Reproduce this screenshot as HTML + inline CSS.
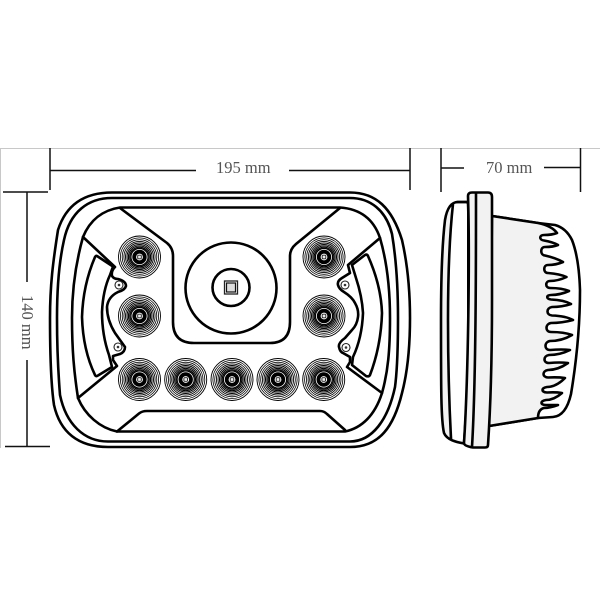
<!DOCTYPE html>
<html><head><meta charset="utf-8"><style>
html,body{margin:0;padding:0;background:#fff}
svg{display:block;filter:blur(.3px)}
text{font-family:"Liberation Serif",serif;font-size:16.5px;fill:#555}
</style></head><body>
<svg width="600" height="600" viewBox="0 0 600 600" xmlns="http://www.w3.org/2000/svg">
<defs>
<g id="led" fill="none" stroke="#000">
<circle r="21" stroke-width=".9"/><circle r="19.1" stroke-width=".8"/><circle r="17.3" stroke-width=".8"/><circle r="15.6" stroke-width=".85"/><circle r="14" stroke-width=".9"/><circle r="12.5" stroke-width="1"/><circle r="11.1" stroke-width="1.05"/><circle r="9.8" stroke-width="1.1"/><circle r="8.6" stroke-width="1.2"/>
<circle r="7.2" fill="#000" stroke="none"/>
<circle r="3.4" fill="#fff" stroke="none"/>
<rect x="-1.8" y="-1.8" width="3.6" height="3.6" rx=".8" stroke="#222" stroke-width=".9" fill="#eee"/>
</g>
<g id="screw" fill="#fff" stroke="#222">
<circle r="4" stroke-width="1.1"/><circle r="1.3" fill="#333" stroke="none"/>
</g>
</defs>
<rect width="600" height="600" fill="#fff"/>
<path d="M0 148.5H600M.5 148V448" fill="none" stroke="#c8c8c8" stroke-width="1"/>
<g fill="none" stroke="#111" stroke-width="1.5">
<path d="M50 148V190M50 170.5H196M289 170.5H410M410 148V190"/>
<path d="M3 192H48M27 192V282M27 360V446.5M5 446.5H50"/>
<path d="M441 148V192M580.5 148V192M441 168H464M544 167.5H580"/>
</g>
<text x="216" y="173">195 mm</text>
<text x="486" y="173">70 mm</text>
<text transform="translate(22,295) rotate(90)">140 mm</text>
<g fill="none" stroke="#000" stroke-width="2.6" stroke-linejoin="round" stroke-linecap="round">
<path d="M112 192.500H350C376 192.500 392 208 402 240C407 262 410 285 410 318C410 350 407 374 402 393C394 426 380 447 350 447H108C78 447 60 432 54 405C51 385 50 350 50 318C50 285 53 262 58 230C66 205 84 192.500 112 192.500Z"/>
<path d="M112 198H350C370 198 386 210 392 234C396 258 398 285 398 318C398 350 397 372 395 387C388 420 372 441.500 350 441.500H108C84 441.500 66 424 60 395C58 370 57 345 57 318C57 290 59 262 64 240C70 212 88 198 112 198Z"/>
<path d="M120 207.500H340C361 209 374 220 380 238C387 262 390 288 390 318C390 350 388 372 382 393C375 415 362 428 345 431.500H117C100 428 85 415 78 398C74 372 72 350 72 318C72 288 76 262 83 237C90 220 103 210 120 207.500Z"/>
<path d="M120 208L167 243Q173 248 173 256V322Q173 343 194 343H270Q290 343 290 322V256Q290 249 296 244L340 208"/>
<path d="M83 237L115 267Q111 271 112 276Q114 279 118 279Q126 281 126 286Q125 290 118 292Q108 297 107 307Q107 320 115 333L125 347Q125 352 120 354L113 356L113 360L117 366L78 398"/>
<path d="M380 238L348 265L350 273L342 278Q337 281 338 285Q339 289 344 292Q352 297 355 303Q359 310 358 317Q357 325 352 330L345 338Q338 343 339 347Q340 352 343 353L350 357L350 362L347 367L382 393"/>
<path d="M97 256L113 266.500L110 275Q103 290 102 312Q102 335 109 355L112 367L98 375.500Q96 377 95 375Q83 350 82 317Q83 285 95 257Q96 255.500 97 256Z"/>
<path d="M365 255L352 265L356 278Q362 296 363 313Q362 338 353 357L352 365L366 376Q369 377 370 375Q381 346 382 313Q381 285 368 256Q367 254 365 255Z"/>
<path d="M117 431.500L139 413.500Q142 411 147 411H320Q324 411 327 414L345 430"/>
<circle cx="231" cy="288" r="45.500"/>
<circle cx="231" cy="287.500" r="18.500"/>
</g>
<rect x="224.500" y="281" width="13" height="13" fill="none" stroke="#222" stroke-width="1.300"/>
<rect x="226.500" y="283" width="9" height="9" fill="#ddd" stroke="#111" stroke-width="1.200"/>
<use href="#screw" x="119" y="285"/><use href="#screw" x="118" y="347"/><use href="#screw" x="345" y="285"/><use href="#screw" x="346" y="347.500"/>
<use href="#led" x="139.500" y="257"/><use href="#led" x="139.500" y="316"/>
<use href="#led" x="324" y="257"/><use href="#led" x="324" y="316"/>
<use href="#led" x="139.500" y="379.500"/><use href="#led" x="185.700" y="379.500"/><use href="#led" x="232" y="379.500"/><use href="#led" x="278" y="379.500"/><use href="#led" x="323.700" y="379.500"/>
<g stroke="#000" stroke-width="2.600" stroke-linejoin="round" stroke-linecap="round">
<path d="M492 216L538 223L555 225Q566 228 572 240Q579 258 580 290Q580 340 571 394Q566 416 553 417L538 418L489 426Z" fill="#fff"/>
<path fill="#f2f2f2" d="M492 216L538 223
Q552 226 557 233
Q552 235 544 235C539 235 539 240 544 240.500Q553 242 558 245
Q553 247 545 247C540 247 540 255 545 255.500Q556 258 563 262
Q556 265 548 265C543 265 543 273 548 273Q560 274 566.500 277
Q558 281 550 281C545 281 545 288 550 288Q562 288 569 291
Q560 295 551 295C546 295 546 299 551 299.500Q564 300 571 304
Q562 307 552 307C546 308 546 315 552 315.500Q566 316 573 320
Q562 323 551 323C545 324 545 332 551 332Q564 332 572 335
Q562 341 550 341C544 342 544 350 550 350Q562 349 570 350
Q560 355 549 355C543 356 543 363 549 363Q560 362 568 363
Q558 370 548 370C542 371 542 377 548 377.500Q558 377 565 378
Q556 387 547 387C541 388 541 392 547 392.500Q556 392 562 393
Q554 400 546 400C540 401 540 405 546 405Q553 405 558 405
Q550 408 544 408C540 409 538 412 538 418
L489 426Z"/>
<path fill="#f2f2f2" d="M468 202V444L464 443.500C456 442 447 440 444 433C441 420 441 390 441 320C441 280 442 245 445 220C447 208 451 202 458 202Z"/>
<path fill="#fff" stroke="none" d="M452 204H467V442L453 439C449 400 448 360 448 320C448 280 449 240 452 204Z"/>
<path fill="none" d="M468 202H457M453 204C449 240 448 280 448 320C448 360 449 400 451 439M468 202C470 260 469 380 464 443"/>
<path fill="#f2f2f2" d="M468 196Q468 192.500 472 192.500H488Q492 192.500 492 197V300C492 350 491 400 488 445Q488 447.500 485 447.500H473Q464 446 464 443C468 380 470 260 468 196Z"/>
<path fill="none" d="M476 193C476 260 476 380 472 447"/>
</g>
</svg>
</body></html>
